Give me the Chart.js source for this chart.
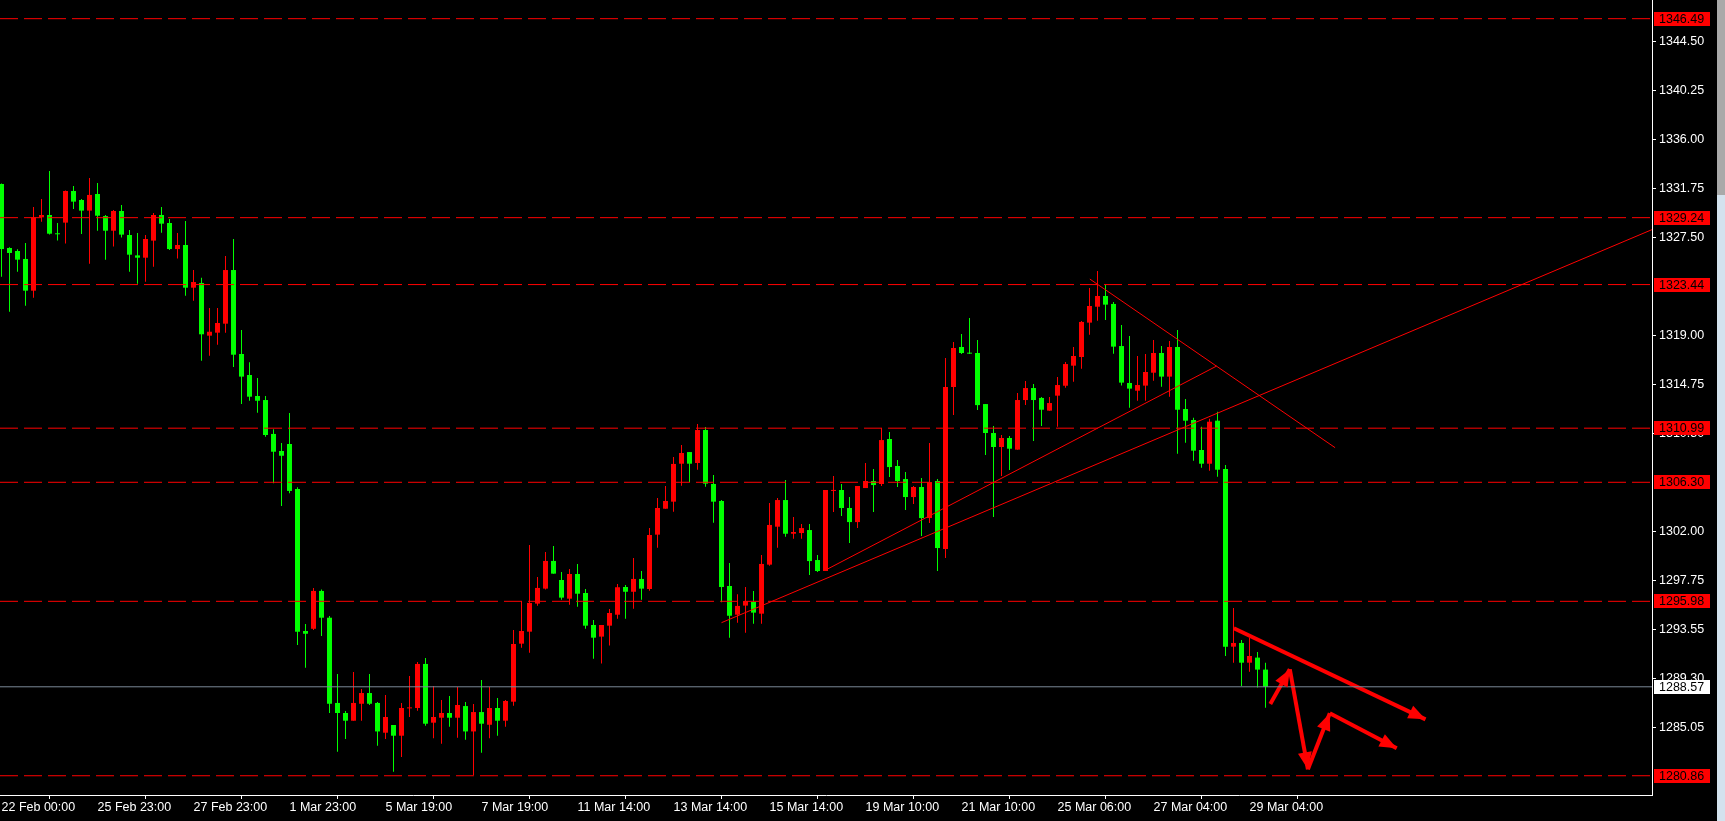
<!DOCTYPE html>
<html>
<head>
<meta charset="utf-8">
<script src="https://cdn.jsdelivr.net/npm/chart.js@4.4.0/dist/chart.umd.min.js"></script>
<style>
  html, body { margin: 0; padding: 0; background: #000; overflow: hidden; }
  #wrap { width: 1725px; height: 821px; position: relative; }
</style>
</head>
<body>
<div id="wrap"><canvas id="chart"></canvas></div>
<script>
// H4 candles
const opens = [1332.16,1326.61,1326.35,1325.66,1322.91,1329.27,1329.47,1327.85,1328.81,1331.55,
  1330.77,1329.85,1331.29,1329.38,1328.11,1329.82,1327.74,1325.97,1325.77,1327.25,
  1329.47,1328.78,1326.52,1326.87,1323.17,1323.58,1319.01,1319.27,1320.05,1324.7,
  1317.42,1315.6,1313.78,1313.43,1310.49,1309.01,1309.62,1305.72,1293.41,1293.6,
  1296.88,1294.56,1287.17,1286.3,1285.63,1287.1,1288.03,1287.17,1284.59,1285.26,
  1284.33,1286.7,1286.73,1290.55,1285.46,1285.89,1286.3,1285.89,1286.9,1284.7,
  1286.38,1285.28,1286.73,1285.63,1287.28,1292.31,1293.35,1295.78,1297.08,1299.48,
  1297.83,1296.21,1298.35,1296.7,1293.93,1292.92,1293.87,1294.82,1297.22,1296.81,
  1297.92,1297.05,1301.76,1304.01,1304.62,1307.91,1308.92,1307.97,1310.83,1306.15,
  1304.68,1297.31,1294.82,1295.61,1295.92,1294.91,1299.16,1302.45,1304.76,1301.84,
  1301.9,1302.16,1299.56,1298.61,1305.55,1305.63,1304.07,1302.85,1305.8,1306.41,
  1306.15,1310.05,1307.71,1306.58,1305.02,1305.89,1303.2,1306.41,1300.51,1314.56,
  1318.03,1317.53,1317.51,1313.08,1310.57,1309.36,1310.14,1309.13,1313.43,1314.47,
  1313.61,1312.51,1313.81,1314.67,1316.41,1317.16,1320.14,1321.52,1322.45,1321.76,
  1318.11,1314.91,1314.24,1314.68,1315.8,1317.51,1315.46,1318.03,1312.65,1311.7,
  1309.1,1307.91,1311.64,1307.45,1292.05,1292.37,1290.66,1291.1,1290.06];
const highs = [1332.2,1326.67,1326.5,1327.04,1330.17,1330.86,1333.29,1328.78,1331.6,1331.99,
  1330.86,1332.68,1332.25,1329.47,1329.9,1330.34,1328.17,1327.91,1327.74,1329.65,
  1330.17,1329.12,1327.91,1328.95,1324.7,1324.04,1321.41,1321.41,1325.92,1327.39,
  1319.5,1316.7,1315.34,1313.78,1310.9,1309.71,1312.31,1305.87,1294.02,1297.14,
  1297.0,1294.71,1289.68,1286.47,1289.85,1288.38,1289.68,1287.25,1287.86,1285.26,
  1287.17,1289.51,1290.72,1291.07,1288.64,1287.43,1287.77,1288.55,1287.25,1287.08,
  1289.16,1288.55,1287.6,1287.43,1293.49,1296.01,1300.86,1298.09,1300.26,1300.78,
  1298.52,1298.78,1299.22,1297.05,1294.36,1293.93,1295.32,1297.48,1297.4,1299.74,
  1298.61,1302.34,1304.94,1305.98,1308.49,1309.53,1308.92,1311.35,1311.09,1306.93,
  1304.76,1299.3,1296.6,1297.22,1296.88,1299.99,1304.5,1304.94,1306.5,1303.29,
  1302.68,1302.68,1299.99,1305.63,1306.84,1306.15,1305.02,1305.98,1307.97,1307.45,
  1311.0,1310.66,1308.23,1307.19,1305.98,1306.67,1309.7,1306.58,1317.07,1318.46,
  1319.15,1320.54,1318.63,1313.08,1311.18,1310.4,1310.31,1314.04,1315.08,1314.82,
  1313.69,1313.69,1315.43,1316.73,1318.03,1320.28,1323.14,1324.62,1323.4,1321.93,
  1319.93,1318.98,1317.25,1317.42,1318.63,1318.11,1318.55,1319.5,1313.52,1311.9,
  1311.12,1311.81,1312.42,1307.8,1295.4,1292.63,1292.8,1291.59,1290.66];
const lows = [1324.12,1321.09,1324.56,1321.6,1322.3,1328.89,1327.77,1327.25,1326.99,1329.99,
  1327.83,1325.25,1328.11,1325.6,1326.73,1327.51,1324.56,1323.52,1323.69,1324.99,
  1327.94,1326.44,1325.69,1322.48,1322.04,1316.84,1317.27,1318.23,1319.27,1316.3,
  1313.09,1313.37,1312.33,1310.25,1306.21,1304.24,1305.35,1292.19,1290.23,1293.5,
  1292.97,1286.3,1282.95,1284.04,1285.63,1285.63,1286.99,1283.46,1284.04,1281.21,
  1282.48,1285.95,1286.5,1285.2,1284.1,1283.64,1285.11,1284.16,1283.98,1280.92,
  1282.86,1284.1,1284.33,1285.11,1286.93,1291.96,1291.52,1295.6,1297.0,1298.38,
  1296.12,1295.69,1295.52,1293.61,1291.0,1290.6,1292.14,1294.48,1294.48,1295.34,
  1296.12,1296.9,1300.63,1304.01,1303.75,1306.0,1306.32,1307.39,1305.92,1302.8,
  1295.9,1292.83,1294.13,1293.26,1294.04,1294.04,1299.07,1300.63,1301.58,1301.41,
  1301.41,1298.26,1298.52,1298.61,1303.72,1303.37,1301.03,1302.33,1305.8,1303.72,
  1305.98,1306.76,1305.89,1303.89,1304.41,1301.64,1302.77,1298.61,1299.73,1312.13,
  1317.42,1317.42,1312.56,1308.66,1303.29,1306.84,1307.36,1309.13,1313.0,1309.88,
  1311.18,1312.51,1311.12,1314.5,1315.02,1316.15,1319.1,1320.31,1320.37,1317.45,
  1314.68,1312.77,1313.37,1313.37,1315.11,1314.59,1313.72,1308.78,1309.73,1308.17,
  1307.57,1307.31,1306.79,1291.24,1290.66,1288.64,1289.88,1288.5,1286.76];
const closes = [1326.52,1326.18,1325.6,1322.91,1329.27,1329.47,1327.85,1327.8,1331.55,1330.63,
  1329.85,1331.21,1329.41,1328.11,1329.82,1327.77,1326.03,1325.77,1327.39,1329.47,
  1328.72,1326.52,1326.87,1323.17,1323.66,1319.13,1319.35,1320.11,1324.7,1317.36,
  1315.46,1313.72,1313.37,1310.4,1308.95,1308.6,1305.55,1293.35,1293.17,1296.88,
  1294.56,1287.1,1286.3,1285.63,1287.17,1288.03,1287.1,1284.7,1285.95,1284.33,
  1286.73,1286.75,1290.55,1285.37,1285.95,1286.3,1285.89,1286.99,1284.7,1286.38,
  1285.37,1286.73,1285.63,1287.34,1292.28,1293.41,1295.84,1297.14,1299.48,1298.38,
  1296.3,1298.35,1296.64,1293.87,1292.83,1293.93,1294.97,1297.2,1296.81,1297.92,
  1297.08,1301.73,1304.07,1304.68,1307.89,1308.84,1307.91,1310.83,1306.18,1304.62,
  1297.22,1294.73,1295.58,1296.01,1295.0,1299.22,1302.6,1304.76,1301.84,1301.99,
  1302.33,1299.47,1298.61,1305.63,1305.63,1304.07,1302.85,1305.98,1306.41,1306.06,
  1309.96,1307.62,1306.41,1305.02,1305.89,1303.2,1306.32,1300.6,1314.56,1317.94,
  1317.51,1317.45,1312.99,1310.57,1309.36,1310.14,1309.21,1313.43,1314.47,1313.43,
  1312.59,1313.17,1314.73,1316.55,1317.25,1320.2,1321.58,1322.45,1321.7,1318.06,
  1314.94,1314.42,1314.73,1315.86,1317.51,1315.46,1318.03,1312.59,1311.64,1309.04,
  1307.91,1311.55,1307.39,1292.05,1292.37,1290.66,1291.24,1290.06,1288.57];

// bottom labels, one every 12 bars
const timeLabels = ['22 Feb 00:00', '25 Feb 23:00', '27 Feb 23:00', '1 Mar 23:00', '5 Mar 19:00',
  '7 Mar 19:00', '11 Mar 14:00', '13 Mar 14:00', '15 Mar 14:00', '19 Mar 10:00',
  '21 Mar 10:00', '25 Mar 06:00', '27 Mar 04:00', '29 Mar 04:00'];
const barsPerLabel = 12;

const priceTicks = [1344.50, 1340.25, 1336.00, 1331.75, 1327.50, 1319.00, 1314.75, 1310.50,
  1302.00, 1297.75, 1293.55, 1289.30, 1285.05];
const levels = [1346.49, 1329.24, 1323.44, 1310.99, 1306.30, 1295.98, 1280.86];
const lastPrice = 1288.57;

// drawn objects: [bar index, price]
const trendLines = [
  [[90, 1294.13], [206.3, 1328.2]],
  [[103.2, 1298.76], [151.9, 1316.38]],
  [[136.04, 1323.92], [166.7, 1309.3]]
];
const arrowPaths = [
  [[154.04, 1293.64], [178.0, 1285.75]],
  [[158.6, 1287.08], [161.04, 1290.09]],
  [[161.04, 1290.09], [163.3, 1281.42]],
  [[163.3, 1281.42], [166.04, 1286.27]],
  [[166.04, 1286.27], [174.4, 1283.24]]
];

const UP = '#ff0000', DOWN = '#00ff00', RED = '#ff0000';
const X_MIN = -0.1875, X_MAX = 206.3125;
const candleColors = closes.map((c, i) => c > opens[i] ? UP : DOWN);

Chart.defaults.font.family = '"Liberation Sans", Arial, sans-serif';
Chart.defaults.font.size = 12.5;

const datasets = [];

levels.forEach(v => datasets.push({
  type: 'line', data: [{ x: X_MIN, y: v }, { x: X_MAX, y: v }],
  borderColor: RED, borderWidth: 1, borderDash: [18, 6], pointRadius: 0, order: 0
}));
datasets.push({
  type: 'line', data: [{ x: X_MIN, y: lastPrice }, { x: X_MAX, y: lastPrice }],
  borderColor: '#7a8896', borderWidth: 1, pointRadius: 0, order: 0
});
trendLines.forEach(seg => datasets.push({
  type: 'line', data: seg.map(p => ({ x: p[0], y: p[1] })),
  borderColor: RED, borderWidth: 1, pointRadius: 0, order: 0
}));
arrowPaths.forEach(seg => datasets.push({
  type: 'line', data: seg.map(p => ({ x: p[0], y: p[1] })),
  borderColor: RED, borderWidth: 4, pointRadius: 0, order: 0
}));

// bodies
datasets.push({
  type: 'bar', data: opens.map((o, i) => ({ x: i, y: [o, closes[i]] })),
  backgroundColor: candleColors, barThickness: 5, minBarLength: 1,
  grouped: false, inflateAmount: 0, borderWidth: 0, order: 2
});
// wicks
datasets.push({
  type: 'bar', data: highs.map((h, i) => ({ x: i, y: [lows[i], h] })),
  backgroundColor: candleColors, barThickness: 1, minBarLength: 1,
  grouped: false, inflateAmount: 0, borderWidth: 0, order: 3
});

const overlay = {
  id: 'overlay',
  afterDatasetsDraw(chart) {
    const { ctx, scales: { x, y } } = chart;
    ctx.save();
    ctx.fillStyle = RED;
    arrowPaths.forEach(seg => {
      const x0 = x.getPixelForValue(seg[0][0]), y0 = y.getPixelForValue(seg[0][1]);
      const x1 = x.getPixelForValue(seg[1][0]), y1 = y.getPixelForValue(seg[1][1]);
      const a = Math.atan2(y1 - y0, x1 - x0);
      const len = 17, half = 7;
      const bx = x1 - len * Math.cos(a), by = y1 - len * Math.sin(a);
      ctx.beginPath();
      ctx.moveTo(x1, y1);
      ctx.lineTo(bx - half * Math.sin(a), by + half * Math.cos(a));
      ctx.lineTo(bx + half * Math.sin(a), by - half * Math.cos(a));
      ctx.closePath();
      ctx.fill();
    });
    ctx.restore();
  },
  afterDraw(chart) {
    const { ctx, chartArea, scales: { y } } = chart;
    const left = chartArea.right + 2;
    ctx.save();
    ctx.font = '12.5px "Liberation Sans", Arial, sans-serif';
    ctx.textBaseline = 'middle';
    const tag = (v, bg) => {
      const py = Math.round(y.getPixelForValue(v));
      ctx.fillStyle = bg;
      ctx.fillRect(left, py - 7, 56, 14);
      ctx.fillStyle = '#000';
      ctx.fillText(v.toFixed(2), left + 5, py + 0.5);
    };
    levels.forEach(v => tag(v, RED));
    tag(lastPrice, '#ffffff');
    // window scroll strip on the right
    ctx.fillStyle = '#d4e2ee';
    ctx.fillRect(1717, 0, 8, 821);
    ctx.fillStyle = '#a9a9a9';
    ctx.fillRect(1717, 0, 8, 195);
    ctx.restore();
  }
};

new Chart(document.getElementById('chart'), {
  type: 'bar',
  data: { datasets },
  options: {
    responsive: true,
    maintainAspectRatio: false,
    animation: false,
    events: [],
    layout: { padding: 0, autoPadding: false },
    plugins: { legend: { display: false }, tooltip: { enabled: false } },
    scales: {
      x: {
        type: 'linear', min: X_MIN, max: X_MAX, offset: false,
        grid: { drawOnChartArea: false, drawTicks: true, tickLength: 4, color: '#ffffff' },
        border: { display: true, color: '#ffffff', width: 1 },
        ticks: {
          color: '#ffffff', align: 'start', maxRotation: 0, autoSkip: false, padding: 1,
          callback: v => timeLabels[Math.round(v / barsPerLabel)] || ''
        },
        afterBuildTicks: s => { s.ticks = timeLabels.map((_, k) => ({ value: k * barsPerLabel })); },
        afterFit: s => { s.height = 26; s.paddingLeft = 0; s.paddingRight = 0; }
      },
      y: {
        type: 'linear', position: 'right', min: 1279.19, max: 1348.11,
        grid: { drawOnChartArea: false, drawTicks: true, tickLength: 4, color: '#ffffff' },
        border: { display: true, color: '#ffffff', width: 1 },
        ticks: { color: '#ffffff', padding: 3, callback: v => v.toFixed(2) },
        afterBuildTicks: s => { s.ticks = priceTicks.map(v => ({ value: v })); },
        afterFit: s => { s.width = 73; s.paddingTop = 0; s.paddingBottom = 0; }
      }
    }
  },
  plugins: [overlay]
});
</script>
</body>
</html>
